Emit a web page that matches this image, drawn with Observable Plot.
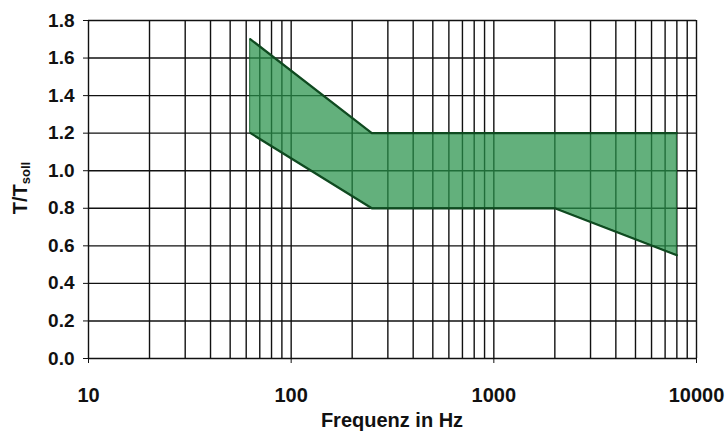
<!DOCTYPE html>
<html><head><meta charset="utf-8">
<script src="https://cdn.jsdelivr.net/npm/d3@7"></script>
<script src="https://cdn.jsdelivr.net/npm/@observablehq/plot@0.6"></script>
<style>
html,body{margin:0;padding:0;background:#fff;}
#chart svg{display:block;}
</style></head>
<body><div id="chart"></div>
<script>
// Tolerance band data
const freq  = [63, 250, 2000, 8000];
const lower = [1.2, 0.8, 0.8, 0.55];
const upper = [1.7, 1.2, 1.2, 1.2];

// Axis ticks and grid
const xTicks = [10, 100, 1000, 10000];
const xGrid = [20,30,40,50,60,70,80,90,100,200,300,400,500,600,700,800,900,1000,2000,3000,4000,5000,6000,7000,8000,9000];
const yTicks = [0, 0.2, 0.4, 0.6, 0.8, 1.0, 1.2, 1.4, 1.6, 1.8];

const band = freq.map((f, i) => ({f, lo: lower[i], hi: upper[i]}));

const font = "'Liberation Sans', Arial, sans-serif";
const chart = Plot.plot({
  width: 728, height: 431,
  marginLeft: 88, marginRight: 32, marginTop: 20, marginBottom: 73,
  style: {fontFamily: font, fontSize: "19px", fontWeight: "bold", color: "#111", background: "#fff"},
  x: {type: "log", domain: [10, 10000], label: null},
  y: {domain: [0, 1.8], label: null},
  marks: [
    Plot.ruleX(xGrid, {stroke: "#111", strokeWidth: 1.4}),
    Plot.ruleY(yTicks, {stroke: "#111", strokeWidth: 1.4}),
    Plot.ruleX([10, 10000], {stroke: "#111", strokeWidth: 1.4}),
    Plot.areaY(band, {x: "f", y1: "lo", y2: "hi", fill: "#27914a", fillOpacity: 0.72, stroke: "#1d6b35", strokeWidth: 1}),
    Plot.line(band, {x: "f", y: "hi", stroke: "#0f4a20", strokeWidth: 2.2}),
    Plot.line(band, {x: "f", y: "lo", stroke: "#0f4a20", strokeWidth: 2.2}),
    Plot.axisX({ticks: xTicks, tickFormat: d => String(d), tickSize: 5, tickPadding: 24, fontSize: 20, label: null}),
    Plot.axisY({ticks: yTicks, tickFormat: d3.format(".1f"), tickSize: 5, tickPadding: 9, fontSize: 19, label: null})
  ]
});
document.getElementById("chart").appendChild(chart);

const svg = d3.select(chart);
svg.append("text")
  .attr("x", (88 + 696) / 2).attr("y", 427)
  .attr("text-anchor", "middle")
  .attr("font-family", font).attr("font-weight", "bold").attr("font-size", 20)
  .attr("fill", "#111")
  .text("Frequenz in Hz");
const yl = svg.append("text")
  .attr("transform", "translate(27,188) rotate(-90)")
  .attr("text-anchor", "middle")
  .attr("font-family", font).attr("font-weight", "bold").attr("font-size", 20)
  .attr("fill", "#111");
yl.append("tspan").text("T/T");
yl.append("tspan").attr("font-size", 13).attr("dy", 3).text("soll");
</script>
</body></html>
